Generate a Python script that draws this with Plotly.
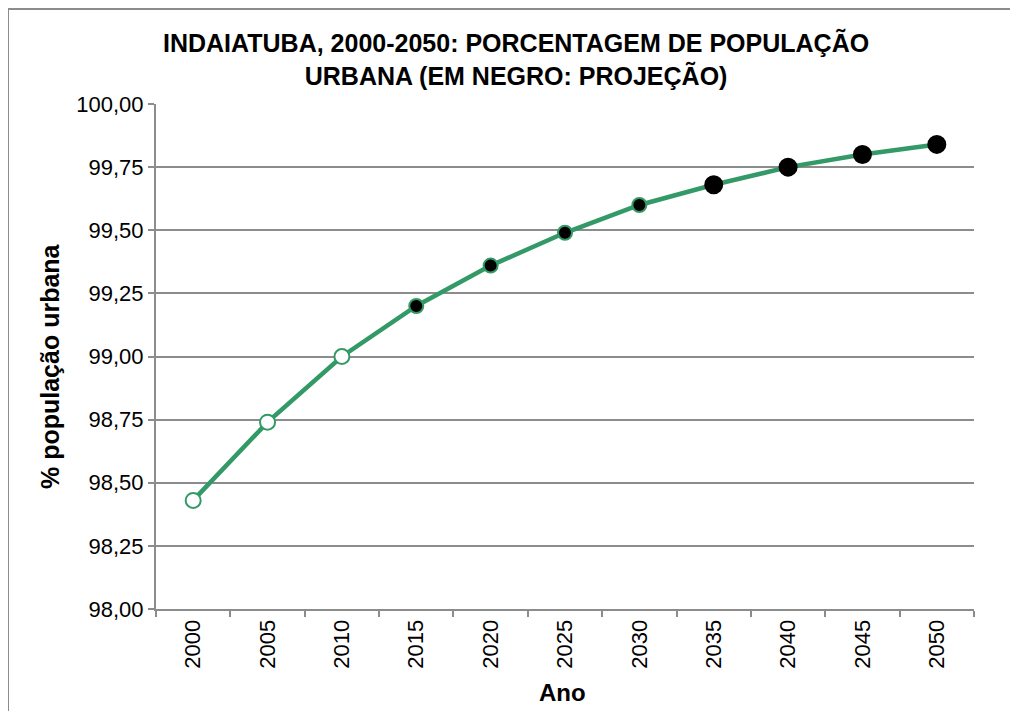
import plotly.graph_objects as go

years = ["2000", "2005", "2010", "2015", "2020", "2025", "2030", "2035", "2040", "2045", "2050"]
urban_pct = [98.43, 98.74, 99.00, 99.20, 99.36, 99.49, 99.60, 99.68, 99.75, 99.80, 99.84]
# marker style groups: observed (hollow), projected early, projected late
marker_fill = ["white"] * 3 + ["black"] * 8
marker_edge = ["#339966"] * 7 + ["black"] * 4
marker_size = [15] * 3 + [14] * 4 + [17] * 4

OFF = 8  # page body margin
W, H = 1018 - OFF, 711 - OFF
L, R, T, B = 156, 974, 104, 609  # plot area in page pixels
pw, ph = R - L, B - T

def px(x):
    return (x - L) / pw

def py(y):
    return (B - y) / ph

FONT = "Liberation Sans, Arial, sans-serif"
GRAY = "#8c8c8c"

fig = go.Figure()
fig.add_trace(go.Scatter(
    x=years, y=urban_pct, mode="lines+markers",
    line=dict(color="#339966", width=4.5),
    marker=dict(color=marker_fill, size=marker_size, opacity=1,
                line=dict(color=marker_edge, width=2)),
    showlegend=False, hoverinfo="x+y",
))

fig.update_layout(
    width=W, height=H,
    margin=dict(l=L - OFF, r=W - (R - OFF), t=T - OFF, b=H - (B - OFF), pad=0),
    paper_bgcolor="white", plot_bgcolor="white",
    separators=",.",
    font=dict(family=FONT, color="black"),
    xaxis=dict(type="category", tickson="boundaries", ticks="outside", ticklen=6,
               tickcolor=GRAY, tickwidth=2, showline=True, linecolor=GRAY, linewidth=2,
               showgrid=False, tickangle=-90, tickfont=dict(size=22),
               range=[-0.5, 10.5]),
    yaxis=dict(range=[98, 100], dtick=0.25, tick0=98, tickformat=".2f",
               ticks="outside", ticklen=6, tickcolor=GRAY, tickwidth=2,
               showline=True, linecolor=GRAY, linewidth=2,
               showgrid=True, gridcolor=GRAY, gridwidth=2,
               zeroline=False, tickfont=dict(size=22)),
    annotations=[
        dict(text="<b>INDAIATUBA, 2000-2050: PORCENTAGEM DE POPULAÇÃO<br>URBANA (EM NEGRO: PROJEÇÃO)</b>",
             xref="paper", yref="paper", x=px(516), y=py(59), xanchor="center", yanchor="middle",
             showarrow=False, font=dict(size=25, family=FONT, color="black"), align="center"),
        dict(text="<b>% população urbana</b>", xref="paper", yref="paper",
             x=px(50), y=py(366), xanchor="center", yanchor="middle", textangle=-90,
             showarrow=False, font=dict(size=25, family=FONT, color="black")),
        dict(text="<b>Ano</b>", xref="paper", yref="paper",
             x=px(562), y=py(692), xanchor="center", yanchor="middle",
             showarrow=False, font=dict(size=24, family=FONT, color="black")),
    ],
    shapes=[dict(type="rect", xref="paper", yref="paper",
                 x0=px(8), x1=px(1040), y0=py(740), y1=py(9),
                 line=dict(color=GRAY, width=2), fillcolor="rgba(0,0,0,0)", layer="below")],
)

fig.write_html("out.html")
